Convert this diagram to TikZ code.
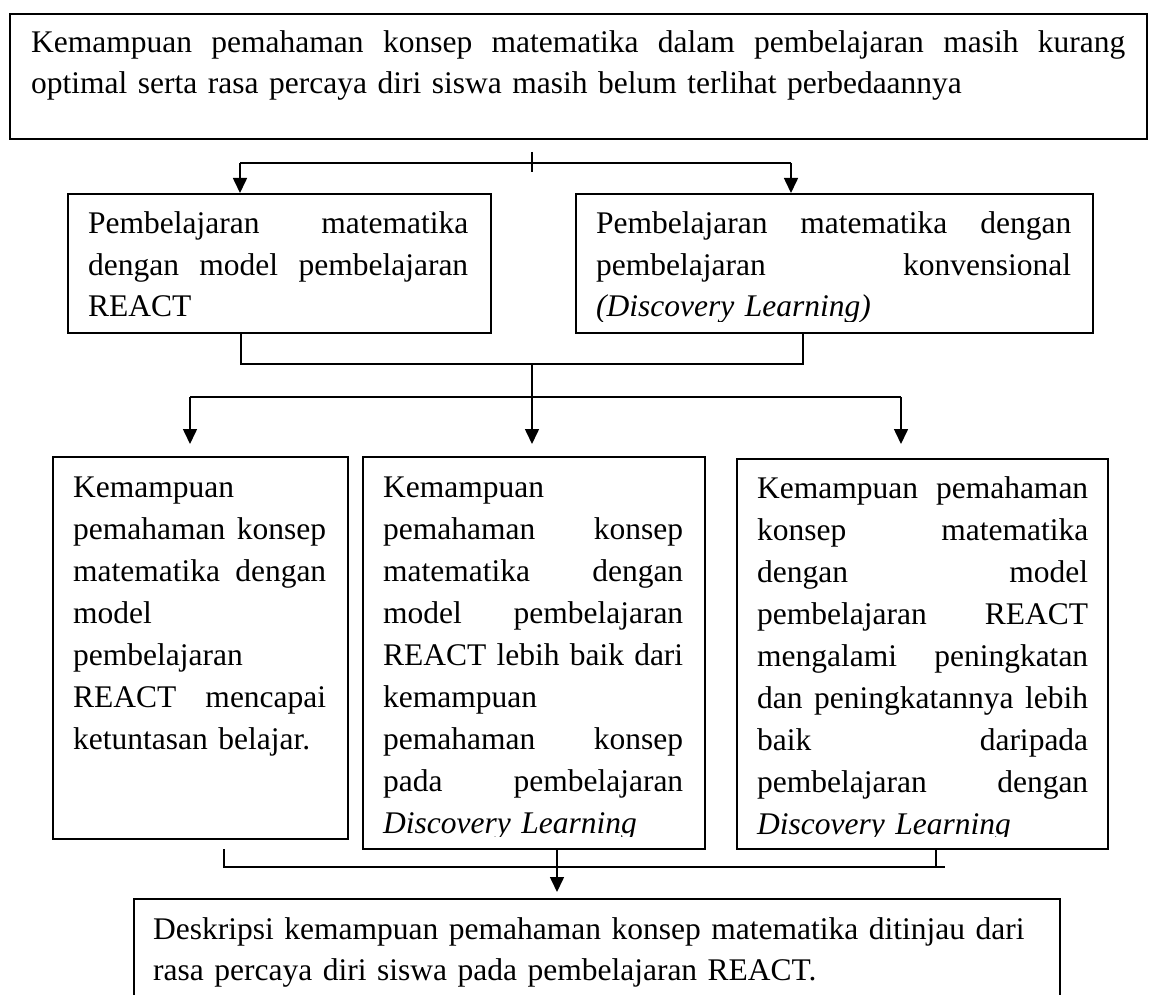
\documentclass[tikz,border=0pt]{standalone}
\usepackage{fontspec}
\setmainfont{Liberation Serif}
\usetikzlibrary{arrows.meta}
\newcommand\textw{100pt}
\newcommand\jline[1]{\leavevmode\hbox to\textw{\spaceskip=\fontdimen2\font plus 1fil\relax #1}}
\begin{document}
\begin{tikzpicture}[x=1pt,y=-1pt,
  boxst/.style={draw, line width=2pt, rectangle, inner sep=0pt, anchor=north west},
  txt/.style={anchor=base west, inner sep=0pt, text width=#1, align=left, font=\fontsize{31.5}{42}\selectfont},
  con/.style={line width=1.6pt},
  thincon/.style={line width=1.2pt},
  arr/.style={con, -{Triangle[length=15pt,width=14pt]}}]
\useasboundingbox[fill=white] (0,0) rectangle (1149,995);

% boxes
\node[boxst, minimum width=1137pt, minimum height=125pt] (b0) at (9,13) {};
\node[boxst, minimum width=423pt, minimum height=139pt] (b1) at (67,193) {};
\node[boxst, minimum width=517pt, minimum height=139pt] (b2) at (575,193) {};
\node[boxst, minimum width=295pt, minimum height=382pt] (b3) at (52,456) {};
\node[boxst, minimum width=342pt, minimum height=392pt] (b4) at (362,456) {};
\node[boxst, minimum width=371pt, minimum height=390pt] (b5) at (736,458) {};
\node[boxst, minimum width=926pt, minimum height=120pt] (b6) at (133,898) {};

% texts
\node[txt=1094pt, font=\fontsize{31.5}{40.6}\selectfont] (t0) at (31,52.5) {%
\renewcommand\textw{1094pt}%
\jline{Kemampuan pemahaman konsep matematika dalam pembelajaran masih kurang}\\
optimal serta rasa percaya diri siswa masih belum terlihat perbedaannya};

\node[txt=380pt, font=\fontsize{31.5}{41.5}\selectfont] (t1) at (88,234) {%
\renewcommand\textw{380pt}%
\jline{Pembelajaran matematika}\\
\jline{dengan model pembelajaran}\\
REACT};

\begin{scope}
\clip (575,193) rectangle (1092,321);
\node[txt=475pt, font=\fontsize{31.5}{41.5}\selectfont] (t2) at (596,234) {%
\renewcommand\textw{475pt}%
\jline{Pembelajaran matematika dengan}\\
\jline{pembelajaran konvensional}\\
\textit{(Discovery Learning)}};
\end{scope}

\node[txt=253pt] (t3) at (73,497) {%
\renewcommand\textw{253pt}%
Kemampuan\\
\jline{pemahaman konsep}\\
\jline{matematika dengan}\\
model\\
pembelajaran\\
\jline{REACT mencapai}\\
ketuntasan belajar.};

\begin{scope}
\clip (362,456) rectangle (704,836);
\node[txt=300pt] (t4) at (383,497) {%
\renewcommand\textw{300pt}%
Kemampuan\\
\jline{pemahaman konsep}\\
\jline{matematika dengan}\\
\jline{model pembelajaran}\\
\jline{REACT lebih baik dari}\\
kemampuan\\
\jline{pemahaman konsep}\\
\jline{pada pembelajaran}\\
\textit{Discovery Learning}};
\end{scope}

\begin{scope}
\clip (736,458) rectangle (1107,836);
\node[txt=331pt] (t5) at (757,498) {%
\renewcommand\textw{331pt}%
\jline{Kemampuan pemahaman}\\
\jline{konsep matematika}\\
\jline{dengan model}\\
\jline{pembelajaran REACT}\\
\jline{mengalami peningkatan}\\
\jline{dan peningkatannya lebih}\\
\jline{baik daripada}\\
\jline{pembelajaran dengan}\\
\textit{Discovery Learning}};
\end{scope}

\node[txt=890pt, font=\fontsize{31.5}{41}\selectfont] (t6) at (153,939) {%
Deskripsi kemampuan pemahaman konsep matematika ditinjau dari\\
rasa percaya diri siswa pada pembelajaran REACT.};

% top connector
\coordinate (tk1) at (532,152);
\coordinate (tk2) at (532,172);
\coordinate (h1l) at (240,163);
\coordinate (h1r) at (791,163);
\draw[con] (tk1) -- (tk2);
\draw[con] (h1l) -- (h1r);
\draw[arr] (h1l) -- (h1l |- b1.north);
\draw[arr] (h1r) -- (h1r |- b2.north);

% middle connector
\coordinate (m1) at (241,364);
\coordinate (m2) at (803,364);
\coordinate (mc) at (532,364);
\coordinate (n1) at (190,397);
\coordinate (n2) at (901,397);
\coordinate (e3) at (190,444);
\coordinate (e4) at (532,444);
\coordinate (e5) at (901,444);
\draw[con] (m1 |- b1.south) -- (m1) -- (m2) -- (m2 |- b2.south);
\draw[con] (n1) -- (n2);
\draw[arr] (mc) -- (e4);
\draw[arr] (n1) -- (e3);
\draw[arr] (n2) -- (e5);

% bottom connector
\coordinate (k1) at (224,849);
\coordinate (k1b) at (224,867);
\coordinate (k2) at (945,867);
\coordinate (k3) at (936,849);
\coordinate (k3b) at (936,867);
\coordinate (ab) at (557,848);
\coordinate (e6) at (557,892);
\draw[thincon] (k1) -- (k1b) -- (k2);
\draw[thincon] (k3) -- (k3b);
\draw[arr] (ab |- b4.south) -- (e6);
\end{tikzpicture}
\end{document}
